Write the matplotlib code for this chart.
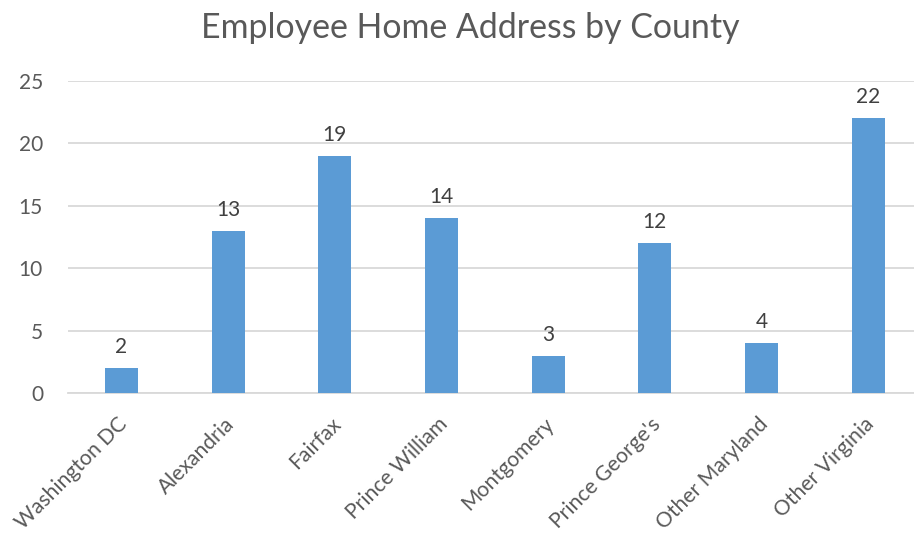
import matplotlib
matplotlib.use("Agg")
import matplotlib.pyplot as plt
import matplotlib.transforms as mtransforms
import numpy as np

categories = ["Washington DC", "Alexandria", "Fairfax", "Prince William",
              "Montgomery", "Prince George's", "Other Maryland", "Other Virginia"]
values = [2, 13, 19, 14, 3, 12, 4, 22]
yticks = [0, 5, 10, 15, 20, 25]
title = "Employee Home Address by County"

plt.rcParams['font.family'] = ['Lato', 'DejaVu Sans']
text_color = "#595959"
bar_color = "#5B9BD5"
grid_color = "#D9D9D9"

fig = plt.figure(figsize=(9.14, 5.33), dpi=100)
ax = fig.add_axes([68/914, (533-393.3)/533, (921.6-68)/914, (393.3-81)/533])

x = np.arange(len(categories))
bars = ax.bar(x, values, width=0.31, color=bar_color, zorder=3)
ax.set_xlim(-0.5, len(categories)-0.5)
ax.set_ylim(0, 25)
ax.set_yticks(yticks)
ax.yaxis.grid(True, color=grid_color, linewidth=1.3, zorder=0)
ax.set_axisbelow(True)
for s in ["top", "right", "left"]:
    ax.spines[s].set_visible(False)
ax.spines["bottom"].set_color(grid_color)
ax.spines["bottom"].set_linewidth(1.3)
ax.tick_params(axis="both", length=0, colors=text_color, labelsize=15)
ax.tick_params(axis="y", pad=18)
ax.set_xticks(x)
ax.set_xticklabels(categories, rotation=45, ha="right", rotation_mode="anchor",
                   fontsize=15.2, color=text_color)
ax.tick_params(axis="x", pad=15)
shift = mtransforms.ScaledTranslation(-4/100, 0, fig.dpi_scale_trans)
for lbl in ax.get_xticklabels():
    lbl.set_transform(lbl.get_transform() + shift)

for xi, v in zip(x, values):
    ax.annotate(str(v), (xi, v), xytext=(0, 8), textcoords="offset points",
                ha="center", va="bottom", fontsize=15, color="#404040")

fig.text(470/914, 1-28/533, title, ha="center", va="center", fontsize=24.4, color=text_color)

fig.savefig("out.png", dpi=100)
